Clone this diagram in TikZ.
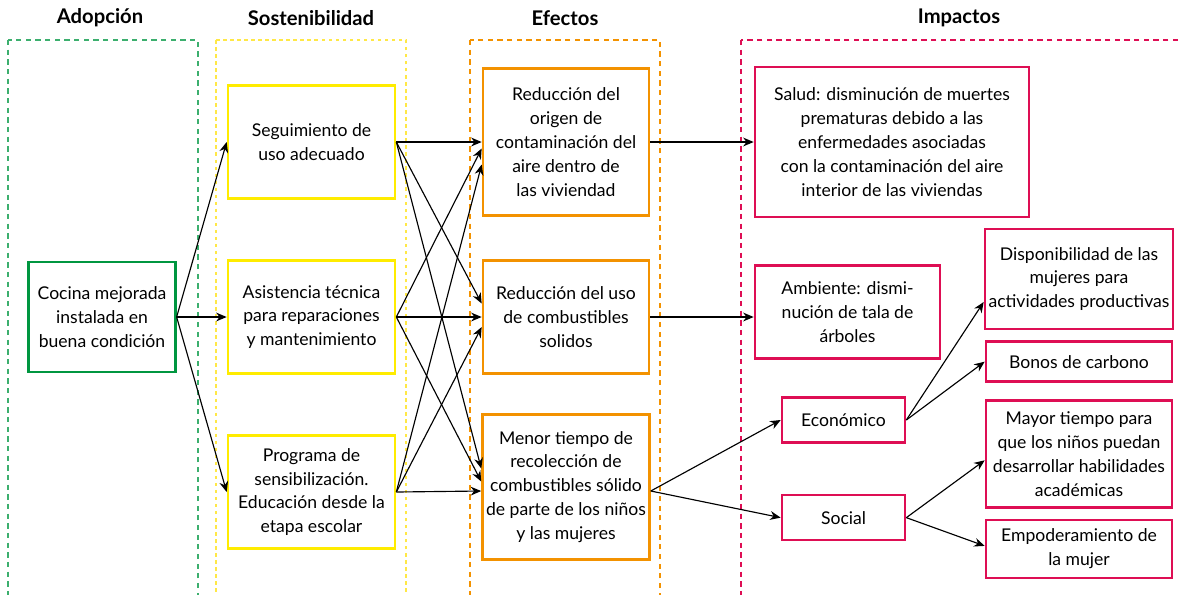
\documentclass[tikz,border=0pt]{standalone}
\usepackage{fontspec}
\setmainfont{Lato}
\usetikzlibrary{arrows.meta,positioning}
\definecolor{verde}{RGB}{0,150,64}
\definecolor{verdeclaro}{RGB}{60,175,110}
\definecolor{amarillo}{RGB}{255,236,0}
\definecolor{amarilloclaro}{RGB}{255,232,70}
\definecolor{naranja}{RGB}{243,146,0}
\definecolor{rosa}{RGB}{222,14,84}
\tikzset{%
  % Specifications for style of nodes:
            base/.style = {rectangle, draw=black, line width=1.5pt, align=center,
                           inner sep=2pt, font=\fontsize{10}{13.6}\selectfont},
        adopcion/.style = {base, draw=verde, line width=1.3pt,
                           minimum width=2.94cm, minimum height=2.2cm},
    sostenible/.style = {base, draw=amarillo, minimum width=3.34cm, minimum height=2.26cm},
         efecto/.style = {base, draw=naranja, minimum width=3.32cm, minimum height=2.26cm},
        impacto/.style = {base, draw=rosa, minimum width=3.72cm},
           zona/.style = {line width=0.8pt, dash pattern=on 3pt off 2.5pt},
         titulo/.style = {font=\bfseries\fontsize{11.5}{14}\selectfont},
pil/.style={
           -{Stealth[length=6pt,width=5pt]},
           line width=0.65pt,}
}
\begin{document}
\begin{tikzpicture}[node distance=3.5cm]
\useasboundingbox (0,0) rectangle (23.56,-11.88);

% dashed columns
\draw[zona, draw=verdeclaro] (0.16,-0.8) rectangle (3.96,-12.5);
\draw[zona, draw=amarilloclaro, dash pattern=on 2pt off 2pt] (4.32,-0.8) rectangle (8.12,-12.5);
\draw[zona, draw=naranja] (9.4,-0.8) rectangle (13.2,-12.5);
\draw[zona, draw=rosa] (14.82,-0.8) rectangle (24.5,-12.5);

\node (tadop)	[titulo] at (2.0,-0.36)	{Adopción};
\node (tsost)	[titulo] at (6.22,-0.36)	{Sostenibilidad};
\node (tefec)	[titulo] at (11.3,-0.36)	{Efectos};
\node (timpa)	[titulo] at (19.18,-0.36)	{Impactos};

\node (cocina)	[adopcion] at (2.04,-6.34)	{Cocina mejorada\\instalada en\\buena condición};

\node (asis)	[sostenible,right of=cocina,xshift=0.69cm]	{Asistencia técnica\\para reparaciones\\y mantenimiento};
\node (seg)	[sostenible,above of=asis]	{Seguimiento de\\uso adecuado};
\node (prog)	[sostenible,below of=asis]	{Programa de\\sensibilización.\\Educación desde la\\etapa escolar};

\node (uso)	[efecto,right of=asis,xshift=1.59cm]	{Reducción del uso\\de combustibles\\solidos};
\node (origen)	[efecto,above of=uso,minimum height=2.94cm]	{Reducción del\\origen de\\contaminación del\\aire dentro de\\las viviendad};
\node (menor)	[efecto,below of=uso,yshift=0.1cm,minimum height=2.9cm]	{Menor tiempo de\\recolección de\\combustibles sólido\\de parte de los niños\\y las mujeres};

\node (salud)	[impacto,right of=origen,xshift=3.02cm,minimum width=5.48cm,minimum height=3cm]	{Salud: disminución de muertes\\prematuras debido a las\\enfermedades asociadas\\con la contaminación del aire\\interior de las viviendas};
\node (ambiente)	[impacto,right of=uso,xshift=2.13cm,yshift=0.1cm,minimum width=3.7cm,minimum height=1.86cm]	{Ambiente: dismi-\\nución de tala de\\árboles};
\node (econ)	[impacto,right of=menor,xshift=2.05cm,yshift=1.34cm,minimum width=2.46cm,minimum height=0.9cm]	{Económico};
\node (social)	[impacto,below=1.0cm of econ,minimum width=2.46cm,minimum height=0.9cm]	{Social};

\node (disp)	[impacto,minimum height=2cm] at (21.58,-5.58)	{Disponibilidad de las\\mujeres para\\actividades productivas};
\node (bonos)	[impacto,below=0.2cm of disp,minimum height=0.8cm]	{Bonos de carbono};
\node (mayor)	[impacto,below=0.32cm of bonos,minimum height=2.14cm]	{Mayor tiempo para\\que los niños puedan\\desarrollar habilidades\\académicas};
\node (empod)	[impacto,below=0.2cm of mayor,minimum height=1.16cm]	{Empoderamiento de\\la mujer};

\foreach \t in {seg,asis,prog}
  \draw[pil] (cocina.east) -- (\t.west);

\foreach \s/\t/\d in {seg/origen/0, asis/origen/-0.13, prog/origen/-0.45,
                      seg/uso/0.27, asis/uso/0, prog/uso/-0.2,
                      seg/menor/0.37, asis/menor/0.11, prog/menor/-0.08}
  \draw[pil] (\s.east) -- ([yshift=\d cm]\t.west);

\draw[pil] (origen) -- (salud);
\draw[pil] (uso.east) -- (uso.east -| ambiente.west);
\draw[pil] ([yshift=-0.08cm]menor.east) -- (econ.west);
\draw[pil] ([yshift=-0.08cm]menor.east) -- (social.west);
\draw[pil] (econ.east) -- ([yshift=-0.46cm]disp.west);
\draw[pil] (econ.east) -- (bonos.west);
\draw[pil] (social.east) -- ([yshift=-0.13cm]mayor.west);
\draw[pil] (social.east) -- ([yshift=0.06cm]empod.west);

\end{tikzpicture}
\end{document}
